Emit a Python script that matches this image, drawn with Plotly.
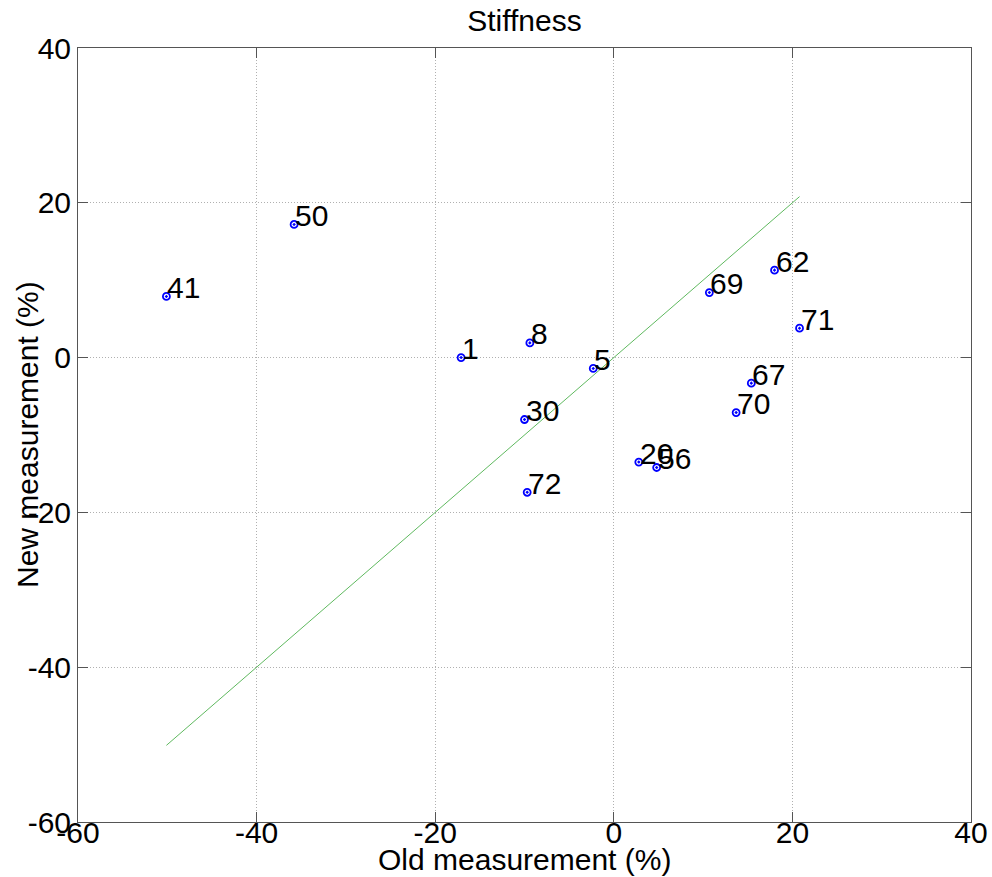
import plotly.graph_objects as go

## data ##
point_ids = ["41", "50", "1", "8", "5", "30", "72", "20", "56", "62", "69", "71", "67", "70"]
old_meas = [-50.1, -35.8, -17.1, -9.4, -2.3, -10.0, -9.7, 2.8, 4.8, 18.0, 10.7, 20.8, 15.4, 13.7]
new_meas = [7.9, 17.2, 0.0, 1.9, -1.4, -8.0, -17.4, -13.5, -14.2, 11.3, 8.4, 3.8, -3.3, -7.1]

tick_vals = [-60, -40, -20, 0, 20, 40]
tick_text = ["-60", "-40", "-20", "0", "20", "40"]

# identity line spans the range of the old measurements
line_x = [min(old_meas), max(old_meas)]
line_y = line_x

fnt = dict(family="Liberation Sans, Arial, sans-serif", size=30, color="black")

fig = go.Figure()
fig.add_trace(go.Scatter(x=line_x, y=line_y, mode="lines",
                         line=dict(color="rgb(95,185,95)", width=1), hoverinfo="skip"))
fig.add_trace(go.Scatter(x=old_meas, y=new_meas, mode="markers",
                         marker=dict(symbol="circle-open-dot", size=7, color="blue",
                                     line=dict(color="blue", width=1.8))))

## point labels ##
for px, py, lab in zip(old_meas, new_meas, point_ids):
    fig.add_annotation(x=px, y=py, text=lab, showarrow=False, xanchor="left", yanchor="middle",
                       xshift=-1, yshift=9, font=fnt)

## axis titles ##
fig.add_annotation(xref="paper", yref="paper", x=0.5, y=0, yanchor="middle", yshift=-37,
                   showarrow=False, text="Old measurement (%)", font=fnt)
fig.add_annotation(xref="paper", yref="paper", x=0, y=0.5, xanchor="center", xshift=-51,
                   showarrow=False, text="New measurement (%)", textangle=-90, font=fnt)

fig.update_layout(width=992, height=877, showlegend=False,
                  margin=dict(l=77.7, r=21, t=48, b=55.3, autoexpand=False),
                  plot_bgcolor="white", paper_bgcolor="white", font=fnt,
                  title=dict(text="Stiffness", x=0.5, xref="paper", y=1 - 20 / 877,
                             yanchor="middle", font=fnt))

axis_style = dict(range=[-60, 40], tickvals=tick_vals, ticktext=tick_text, ticks="inside", ticklen=10,
                  tickcolor="#555", showline=True, linecolor="#555", linewidth=1, mirror="ticks",
                  showgrid=True, gridcolor="#b0b0b0", griddash="1px,2px", gridwidth=1, zeroline=False,
                  tickfont=fnt, automargin=False)
fig.update_xaxes(**axis_style, ticklabelstandoff=-16)
fig.update_yaxes(**axis_style)

fig.write_html("out.html", config={"displayModeBar": False},
               post_script="document.body.style.margin='0';")
